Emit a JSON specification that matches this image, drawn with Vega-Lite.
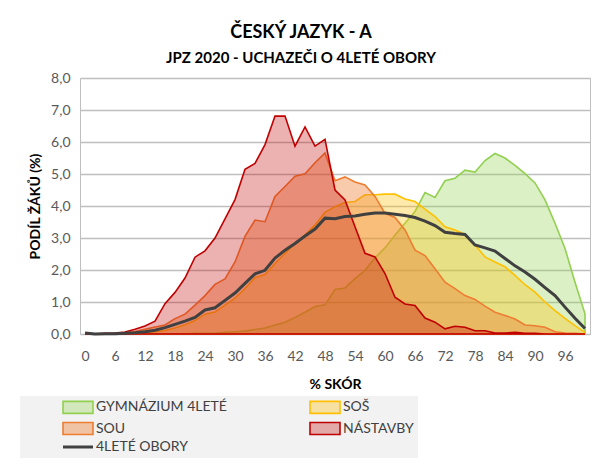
{
"$schema": "https://vega.github.io/schema/vega-lite/v6.json",
"width": 510,
"height": 256,
"autosize": {"type": "none"},
"padding": {"left": 80, "top": 78, "right": 13, "bottom": 134},
"background": "white",
"title": {"text": "ČESKÝ JAZYK - A", "subtitle": "JPZ 2020 - UCHAZEČI O 4LETÉ OBORY", "anchor": "middle", "dx": -34, "font": "Lato", "fontSize": 18, "fontWeight": "bold", "color": "#000000", "subtitleFont": "Lato", "subtitleFontSize": 15, "subtitleFontWeight": "bold", "subtitleColor": "#000000", "subtitlePadding": 9, "offset": 5},
"config": {
  "view": {"stroke": "#bfbfbf", "strokeWidth": 1},
  "font": "Lato",
  "axis": {"labelFont": "Lato", "titleFont": "Lato", "labelFontSize": 14, "labelColor": "#595959", "titleFontSize": 14, "titleFontWeight": "bold", "titleColor": "#000000", "domain": false, "ticks": false}
},
"data": {"values": [
{"s":"GYMNÁZIUM 4LETÉ","x":0,"y":0},{"s":"GYMNÁZIUM 4LETÉ","x":2,"y":0},{"s":"GYMNÁZIUM 4LETÉ","x":4,"y":0},{"s":"GYMNÁZIUM 4LETÉ","x":6,"y":0},{"s":"GYMNÁZIUM 4LETÉ","x":8,"y":0},{"s":"GYMNÁZIUM 4LETÉ","x":10,"y":0},{"s":"GYMNÁZIUM 4LETÉ","x":12,"y":0},{"s":"GYMNÁZIUM 4LETÉ","x":14,"y":0},{"s":"GYMNÁZIUM 4LETÉ","x":16,"y":0.01},{"s":"GYMNÁZIUM 4LETÉ","x":18,"y":0.01},{"s":"GYMNÁZIUM 4LETÉ","x":20,"y":0.01},{"s":"GYMNÁZIUM 4LETÉ","x":22,"y":0.02},{"s":"GYMNÁZIUM 4LETÉ","x":24,"y":0.02},{"s":"GYMNÁZIUM 4LETÉ","x":26,"y":0.03},{"s":"GYMNÁZIUM 4LETÉ","x":28,"y":0.05},{"s":"GYMNÁZIUM 4LETÉ","x":30,"y":0.07},{"s":"GYMNÁZIUM 4LETÉ","x":32,"y":0.09},{"s":"GYMNÁZIUM 4LETÉ","x":34,"y":0.14},{"s":"GYMNÁZIUM 4LETÉ","x":36,"y":0.19},{"s":"GYMNÁZIUM 4LETÉ","x":38,"y":0.28},{"s":"GYMNÁZIUM 4LETÉ","x":40,"y":0.37},{"s":"GYMNÁZIUM 4LETÉ","x":42,"y":0.52},{"s":"GYMNÁZIUM 4LETÉ","x":44,"y":0.68},{"s":"GYMNÁZIUM 4LETÉ","x":46,"y":0.86},{"s":"GYMNÁZIUM 4LETÉ","x":48,"y":0.91},{"s":"GYMNÁZIUM 4LETÉ","x":50,"y":1.39},{"s":"GYMNÁZIUM 4LETÉ","x":52,"y":1.44},{"s":"GYMNÁZIUM 4LETÉ","x":54,"y":1.73},{"s":"GYMNÁZIUM 4LETÉ","x":56,"y":1.99},{"s":"GYMNÁZIUM 4LETÉ","x":58,"y":2.38},{"s":"GYMNÁZIUM 4LETÉ","x":60,"y":2.69},{"s":"GYMNÁZIUM 4LETÉ","x":62,"y":3.09},{"s":"GYMNÁZIUM 4LETÉ","x":64,"y":3.46},{"s":"GYMNÁZIUM 4LETÉ","x":66,"y":3.83},{"s":"GYMNÁZIUM 4LETÉ","x":68,"y":4.42},{"s":"GYMNÁZIUM 4LETÉ","x":70,"y":4.27},{"s":"GYMNÁZIUM 4LETÉ","x":72,"y":4.79},{"s":"GYMNÁZIUM 4LETÉ","x":74,"y":4.87},{"s":"GYMNÁZIUM 4LETÉ","x":76,"y":5.12},{"s":"GYMNÁZIUM 4LETÉ","x":78,"y":5.06},{"s":"GYMNÁZIUM 4LETÉ","x":80,"y":5.42},{"s":"GYMNÁZIUM 4LETÉ","x":82,"y":5.64},{"s":"GYMNÁZIUM 4LETÉ","x":84,"y":5.5},{"s":"GYMNÁZIUM 4LETÉ","x":86,"y":5.27},{"s":"GYMNÁZIUM 4LETÉ","x":88,"y":5.01},{"s":"GYMNÁZIUM 4LETÉ","x":90,"y":4.72},{"s":"GYMNÁZIUM 4LETÉ","x":92,"y":4.19},{"s":"GYMNÁZIUM 4LETÉ","x":94,"y":3.46},{"s":"GYMNÁZIUM 4LETÉ","x":96,"y":2.67},{"s":"GYMNÁZIUM 4LETÉ","x":98,"y":1.62},{"s":"GYMNÁZIUM 4LETÉ","x":100,"y":0.63},
{"s":"SOŠ","x":0,"y":0},{"s":"SOŠ","x":2,"y":0},{"s":"SOŠ","x":4,"y":0},{"s":"SOŠ","x":6,"y":0},{"s":"SOŠ","x":8,"y":0.01},{"s":"SOŠ","x":10,"y":0.02},{"s":"SOŠ","x":12,"y":0.04},{"s":"SOŠ","x":14,"y":0.07},{"s":"SOŠ","x":16,"y":0.11},{"s":"SOŠ","x":18,"y":0.19},{"s":"SOŠ","x":20,"y":0.29},{"s":"SOŠ","x":22,"y":0.42},{"s":"SOŠ","x":24,"y":0.62},{"s":"SOŠ","x":26,"y":0.69},{"s":"SOŠ","x":28,"y":0.9},{"s":"SOŠ","x":30,"y":1.12},{"s":"SOŠ","x":32,"y":1.42},{"s":"SOŠ","x":34,"y":1.76},{"s":"SOŠ","x":36,"y":1.86},{"s":"SOŠ","x":38,"y":2.2},{"s":"SOŠ","x":40,"y":2.52},{"s":"SOŠ","x":42,"y":2.83},{"s":"SOŠ","x":44,"y":3.09},{"s":"SOŠ","x":46,"y":3.41},{"s":"SOŠ","x":48,"y":3.8},{"s":"SOŠ","x":50,"y":3.98},{"s":"SOŠ","x":52,"y":4.11},{"s":"SOŠ","x":54,"y":4.14},{"s":"SOŠ","x":56,"y":4.35},{"s":"SOŠ","x":58,"y":4.35},{"s":"SOŠ","x":60,"y":4.37},{"s":"SOŠ","x":62,"y":4.37},{"s":"SOŠ","x":64,"y":4.22},{"s":"SOŠ","x":66,"y":4.14},{"s":"SOŠ","x":68,"y":3.9},{"s":"SOŠ","x":70,"y":3.67},{"s":"SOŠ","x":72,"y":3.35},{"s":"SOŠ","x":74,"y":3.25},{"s":"SOŠ","x":76,"y":3.11},{"s":"SOŠ","x":78,"y":2.78},{"s":"SOŠ","x":80,"y":2.41},{"s":"SOŠ","x":82,"y":2.25},{"s":"SOŠ","x":84,"y":2.1},{"s":"SOŠ","x":86,"y":1.83},{"s":"SOŠ","x":88,"y":1.54},{"s":"SOŠ","x":90,"y":1.31},{"s":"SOŠ","x":92,"y":1.0},{"s":"SOŠ","x":94,"y":0.73},{"s":"SOŠ","x":96,"y":0.49},{"s":"SOŠ","x":98,"y":0.26},{"s":"SOŠ","x":100,"y":0.05},
{"s":"SOU","x":0,"y":0},{"s":"SOU","x":2,"y":0},{"s":"SOU","x":4,"y":0},{"s":"SOU","x":6,"y":0.01},{"s":"SOU","x":8,"y":0.03},{"s":"SOU","x":10,"y":0.08},{"s":"SOU","x":12,"y":0.15},{"s":"SOU","x":14,"y":0.22},{"s":"SOU","x":16,"y":0.28},{"s":"SOU","x":18,"y":0.48},{"s":"SOU","x":20,"y":0.62},{"s":"SOU","x":22,"y":0.9},{"s":"SOU","x":24,"y":1.2},{"s":"SOU","x":26,"y":1.55},{"s":"SOU","x":28,"y":1.72},{"s":"SOU","x":30,"y":2.25},{"s":"SOU","x":32,"y":3.05},{"s":"SOU","x":34,"y":3.56},{"s":"SOU","x":36,"y":3.51},{"s":"SOU","x":38,"y":4.3},{"s":"SOU","x":40,"y":4.61},{"s":"SOU","x":42,"y":4.93},{"s":"SOU","x":44,"y":5.01},{"s":"SOU","x":46,"y":5.35},{"s":"SOU","x":48,"y":5.66},{"s":"SOU","x":50,"y":4.79},{"s":"SOU","x":52,"y":4.91},{"s":"SOU","x":54,"y":4.75},{"s":"SOU","x":56,"y":4.66},{"s":"SOU","x":58,"y":4.3},{"s":"SOU","x":60,"y":3.77},{"s":"SOU","x":62,"y":3.64},{"s":"SOU","x":64,"y":3.25},{"s":"SOU","x":66,"y":2.62},{"s":"SOU","x":68,"y":2.45},{"s":"SOU","x":70,"y":2.04},{"s":"SOU","x":72,"y":1.62},{"s":"SOU","x":74,"y":1.42},{"s":"SOU","x":76,"y":1.2},{"s":"SOU","x":78,"y":1.08},{"s":"SOU","x":80,"y":0.87},{"s":"SOU","x":82,"y":0.68},{"s":"SOU","x":84,"y":0.58},{"s":"SOU","x":86,"y":0.47},{"s":"SOU","x":88,"y":0.28},{"s":"SOU","x":90,"y":0.26},{"s":"SOU","x":92,"y":0.21},{"s":"SOU","x":94,"y":0.07},{"s":"SOU","x":96,"y":0.03},{"s":"SOU","x":98,"y":0.02},{"s":"SOU","x":100,"y":0},
{"s":"NÁSTAVBY","x":0,"y":0},{"s":"NÁSTAVBY","x":2,"y":0},{"s":"NÁSTAVBY","x":4,"y":0.02},{"s":"NÁSTAVBY","x":6,"y":0.03},{"s":"NÁSTAVBY","x":8,"y":0.06},{"s":"NÁSTAVBY","x":10,"y":0.15},{"s":"NÁSTAVBY","x":12,"y":0.25},{"s":"NÁSTAVBY","x":14,"y":0.4},{"s":"NÁSTAVBY","x":16,"y":0.95},{"s":"NÁSTAVBY","x":18,"y":1.3},{"s":"NÁSTAVBY","x":20,"y":1.75},{"s":"NÁSTAVBY","x":22,"y":2.4},{"s":"NÁSTAVBY","x":24,"y":2.6},{"s":"NÁSTAVBY","x":26,"y":3.0},{"s":"NÁSTAVBY","x":28,"y":3.6},{"s":"NÁSTAVBY","x":30,"y":4.2},{"s":"NÁSTAVBY","x":32,"y":5.15},{"s":"NÁSTAVBY","x":34,"y":5.33},{"s":"NÁSTAVBY","x":36,"y":5.92},{"s":"NÁSTAVBY","x":38,"y":6.81},{"s":"NÁSTAVBY","x":40,"y":6.81},{"s":"NÁSTAVBY","x":42,"y":5.87},{"s":"NÁSTAVBY","x":44,"y":6.47},{"s":"NÁSTAVBY","x":46,"y":5.87},{"s":"NÁSTAVBY","x":48,"y":6.08},{"s":"NÁSTAVBY","x":50,"y":4.5},{"s":"NÁSTAVBY","x":52,"y":4.19},{"s":"NÁSTAVBY","x":54,"y":3.35},{"s":"NÁSTAVBY","x":56,"y":2.52},{"s":"NÁSTAVBY","x":58,"y":2.41},{"s":"NÁSTAVBY","x":60,"y":1.89},{"s":"NÁSTAVBY","x":62,"y":1.15},{"s":"NÁSTAVBY","x":64,"y":0.94},{"s":"NÁSTAVBY","x":66,"y":0.89},{"s":"NÁSTAVBY","x":68,"y":0.5},{"s":"NÁSTAVBY","x":70,"y":0.37},{"s":"NÁSTAVBY","x":72,"y":0.16},{"s":"NÁSTAVBY","x":74,"y":0.24},{"s":"NÁSTAVBY","x":76,"y":0.21},{"s":"NÁSTAVBY","x":78,"y":0.1},{"s":"NÁSTAVBY","x":80,"y":0.1},{"s":"NÁSTAVBY","x":82,"y":0.03},{"s":"NÁSTAVBY","x":84,"y":0.03},{"s":"NÁSTAVBY","x":86,"y":0.05},{"s":"NÁSTAVBY","x":88,"y":0.02},{"s":"NÁSTAVBY","x":90,"y":0.02},{"s":"NÁSTAVBY","x":92,"y":0},{"s":"NÁSTAVBY","x":94,"y":0},{"s":"NÁSTAVBY","x":96,"y":0},{"s":"NÁSTAVBY","x":98,"y":0},{"s":"NÁSTAVBY","x":100,"y":0},
{"s":"4LETÉ OBORY","x":0,"y":0.03},{"s":"4LETÉ OBORY","x":2,"y":0},{"s":"4LETÉ OBORY","x":4,"y":0.01},{"s":"4LETÉ OBORY","x":6,"y":0.01},{"s":"4LETÉ OBORY","x":8,"y":0.02},{"s":"4LETÉ OBORY","x":10,"y":0.04},{"s":"4LETÉ OBORY","x":12,"y":0.07},{"s":"4LETÉ OBORY","x":14,"y":0.12},{"s":"4LETÉ OBORY","x":16,"y":0.2},{"s":"4LETÉ OBORY","x":18,"y":0.3},{"s":"4LETÉ OBORY","x":20,"y":0.4},{"s":"4LETÉ OBORY","x":22,"y":0.52},{"s":"4LETÉ OBORY","x":24,"y":0.75},{"s":"4LETÉ OBORY","x":26,"y":0.82},{"s":"4LETÉ OBORY","x":28,"y":1.05},{"s":"4LETÉ OBORY","x":30,"y":1.28},{"s":"4LETÉ OBORY","x":32,"y":1.58},{"s":"4LETÉ OBORY","x":34,"y":1.88},{"s":"4LETÉ OBORY","x":36,"y":1.99},{"s":"4LETÉ OBORY","x":38,"y":2.37},{"s":"4LETÉ OBORY","x":40,"y":2.62},{"s":"4LETÉ OBORY","x":42,"y":2.83},{"s":"4LETÉ OBORY","x":44,"y":3.06},{"s":"4LETÉ OBORY","x":46,"y":3.28},{"s":"4LETÉ OBORY","x":48,"y":3.62},{"s":"4LETÉ OBORY","x":50,"y":3.6},{"s":"4LETÉ OBORY","x":52,"y":3.67},{"s":"4LETÉ OBORY","x":54,"y":3.69},{"s":"4LETÉ OBORY","x":56,"y":3.74},{"s":"4LETÉ OBORY","x":58,"y":3.78},{"s":"4LETÉ OBORY","x":60,"y":3.78},{"s":"4LETÉ OBORY","x":62,"y":3.74},{"s":"4LETÉ OBORY","x":64,"y":3.7},{"s":"4LETÉ OBORY","x":66,"y":3.64},{"s":"4LETÉ OBORY","x":68,"y":3.53},{"s":"4LETÉ OBORY","x":70,"y":3.39},{"s":"4LETÉ OBORY","x":72,"y":3.18},{"s":"4LETÉ OBORY","x":74,"y":3.14},{"s":"4LETÉ OBORY","x":76,"y":3.11},{"s":"4LETÉ OBORY","x":78,"y":2.78},{"s":"4LETÉ OBORY","x":80,"y":2.69},{"s":"4LETÉ OBORY","x":82,"y":2.59},{"s":"4LETÉ OBORY","x":84,"y":2.36},{"s":"4LETÉ OBORY","x":86,"y":2.13},{"s":"4LETÉ OBORY","x":88,"y":1.94},{"s":"4LETÉ OBORY","x":90,"y":1.71},{"s":"4LETÉ OBORY","x":92,"y":1.45},{"s":"4LETÉ OBORY","x":94,"y":1.2},{"s":"4LETÉ OBORY","x":96,"y":0.84},{"s":"4LETÉ OBORY","x":98,"y":0.49},{"s":"4LETÉ OBORY","x":100,"y":0.17}
]},
"encoding": {
  "x": {"field": "x", "type": "quantitative", "scale": {"domain": [-1, 101], "nice": false, "zero": false}, "axis": {"values": [0,6,12,18,24,30,36,42,48,54,60,66,72,78,84,90,96], "title": "% SKÓR", "grid": false, "labelPadding": 15, "titlePadding": 14}},
  "y": {"field": "y", "type": "quantitative", "scale": {"domain": [0, 8], "nice": false}, "axis": {"values": [0,1,2,3,4,5,6,7,8], "title": "PODÍL ŽÁKŮ (%)", "labelExpr": "replace(format(datum.value, '.1f'), '.', ',')", "grid": true, "gridColor": "#bfbfbf", "gridWidth": 1.3, "labelPadding": 10, "titlePadding": 8}}
},
"layer": [
  {"transform": [{"filter": "datum.s === 'GYMNÁZIUM 4LETÉ'"}], "mark": {"type": "area", "strokeWidth": 1.6, "interpolate": "linear"},
   "encoding": {
     "fill": {"field": "s", "type": "nominal", "scale": {"domain": ["GYMNÁZIUM 4LETÉ", "SOŠ", "SOU", "NÁSTAVBY", "4LETÉ OBORY"], "range": ["rgba(146,208,80,0.33)", "rgba(255,192,0,0.33)", "rgba(237,125,49,0.4)", "rgba(192,0,0,0.3)", "transparent"]},
       "legend": {"title": null, "orient": "none", "direction": "horizontal", "legendX": -60, "legendY": 318, "columns": 2, "columnPadding": 44, "rowPadding": 1.5, "padding": 4, "fillColor": "#f2f2f2", "symbolSize": 400, "symbolOffset": 47, "labelOffset": 11, "labelFontSize": 14, "labelColor": "#404040", "labelFont": "Lato", "labelLimit": 300,
         "encode": {"symbols": {"update": {
           "shape": {"signal": "datum.value === '4LETÉ OBORY' ? 'M-1.5,0H1.5' : 'M-1.5,-0.6H1.5V0.6H-1.5Z'"},
           "stroke": {"signal": "scale('stroke', datum.value)"},
           "strokeWidth": {"signal": "datum.value === '4LETÉ OBORY' ? 3 : 1.6"},
           "opacity": {"value": 1}
         }}}}},
     "stroke": {"field": "s", "type": "nominal", "scale": {"domain": ["GYMNÁZIUM 4LETÉ", "SOŠ", "SOU", "NÁSTAVBY", "4LETÉ OBORY"], "range": ["#92d050", "#ffc000", "#ed7d31", "#c00000", "#404040"]}, "legend": null}
   }},
  {"transform": [{"filter": "datum.s === 'SOŠ'"}], "mark": {"type": "area", "strokeWidth": 1.6, "interpolate": "linear"},
   "encoding": {"fill": {"field": "s", "type": "nominal"}, "stroke": {"field": "s", "type": "nominal", "legend": null}}},
  {"transform": [{"filter": "datum.s === 'SOU'"}], "mark": {"type": "area", "strokeWidth": 1.6, "interpolate": "linear"},
   "encoding": {"fill": {"field": "s", "type": "nominal"}, "stroke": {"field": "s", "type": "nominal", "legend": null}}},
  {"transform": [{"filter": "datum.s === 'NÁSTAVBY'"}], "mark": {"type": "area", "strokeWidth": 1.6, "interpolate": "linear"},
   "encoding": {"fill": {"field": "s", "type": "nominal"}, "stroke": {"field": "s", "type": "nominal", "legend": null}}},
  {"transform": [{"filter": "datum.s === '4LETÉ OBORY'"}], "mark": {"type": "line", "strokeWidth": 3, "interpolate": "linear"},
   "encoding": {"stroke": {"field": "s", "type": "nominal", "legend": null}}}
]
}
